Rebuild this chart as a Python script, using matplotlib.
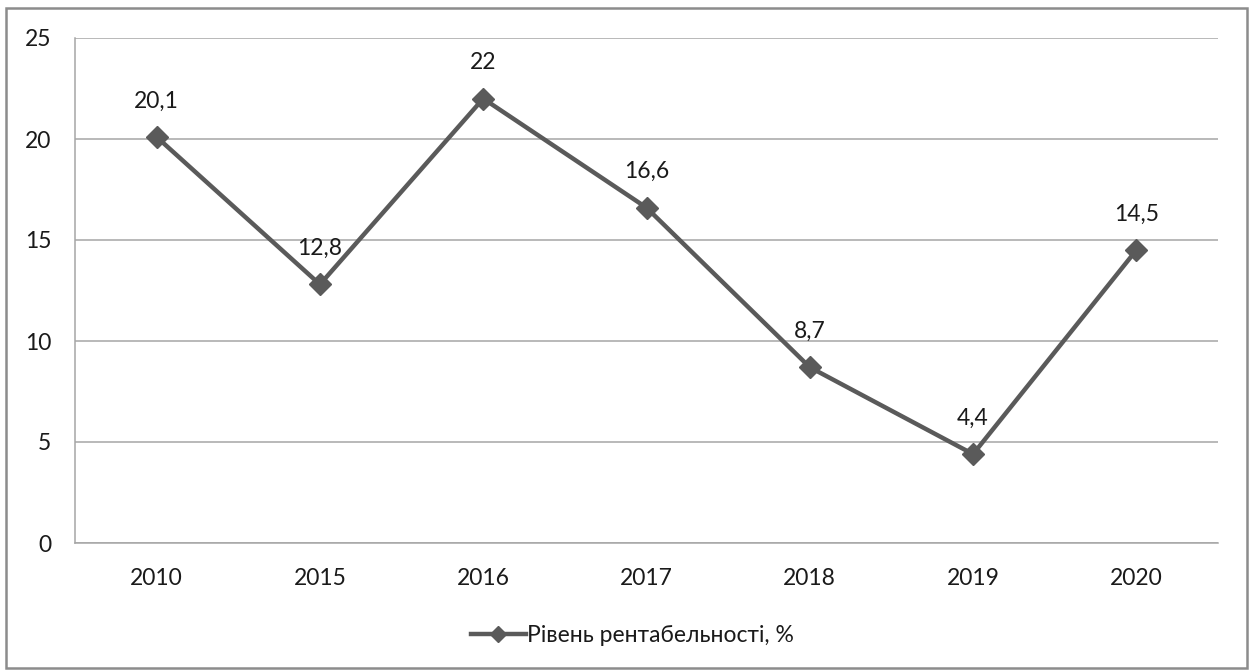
import matplotlib
matplotlib.use("Agg")
import matplotlib.pyplot as plt
from matplotlib.patches import Rectangle

years = ["2010", "2015", "2016", "2017", "2018", "2019", "2020"]
values = [20.1, 12.8, 22, 16.6, 8.7, 4.4, 14.5]
labels = ["20,1", "12,8", "22", "16,6", "8,7", "4,4", "14,5"]
series_name = "Рівень рентабельності, %"
yticks = [0, 5, 10, 15, 20, 25]

plt.rcParams['font.family'] = ['Lato', 'DejaVu Sans']

W, H = 1252, 670
fig = plt.figure(figsize=(W / 100, H / 100), dpi=100)
fig.patch.set_facecolor("white")

# outer border
fig.patches.append(Rectangle((6 / W, 2 / H), (1247 - 6) / W, (H - 8 - 2) / H,
                             transform=fig.transFigure, fill=False,
                             edgecolor="#8c8c8c", linewidth=1.8))

left, right, top, bottom = 75, 1218, 38, 543
ax = fig.add_axes([left / W, 1 - bottom / H, (right - left) / W, (bottom - top) / H])

x = list(range(len(years)))
line_color = "#5a5a5a"
ax.plot(x, values, color=line_color, linewidth=3.2, marker="D", markersize=11,
        markerfacecolor=line_color, markeredgecolor=line_color, label=series_name,
        zorder=3)

fs = 16.5
for xi, v, lab in zip(x, values, labels):
    ax.annotate(lab, (xi, v), xytext=(0, 26), textcoords="offset points",
                ha="center", va="center", fontsize=fs, color="#1a1a1a")

ax.set_xlim(-0.5, len(years) - 0.5)
ax.set_ylim(0, 25)
ax.set_yticks(yticks)
ax.set_yticklabels([str(t) for t in yticks])
ax.set_xticks(x)
ax.set_xticklabels(years)
ax.tick_params(axis="both", length=0, labelsize=fs, colors="#1a1a1a")
ax.tick_params(axis="y", pad=17)
ax.tick_params(axis="x", pad=18)

ax.yaxis.grid(True, color="#a6a6a6", linewidth=1.1)
ax.set_axisbelow(True)
for s in ["top", "right"]:
    ax.spines[s].set_visible(False)
for s in ["left", "bottom"]:
    ax.spines[s].set_color("#a6a6a6")
    ax.spines[s].set_linewidth(1.1)

leg = fig.legend(loc="center", bbox_to_anchor=(0.505, 1 - 636 / H), frameon=False,
                 fontsize=fs, handlelength=2.4, handletextpad=0.05)
for t in leg.get_texts():
    t.set_color("#1a1a1a")
for h in leg.legend_handles:
    h.set_markersize(8)

fig.savefig("out.png", dpi=100, facecolor="white")
